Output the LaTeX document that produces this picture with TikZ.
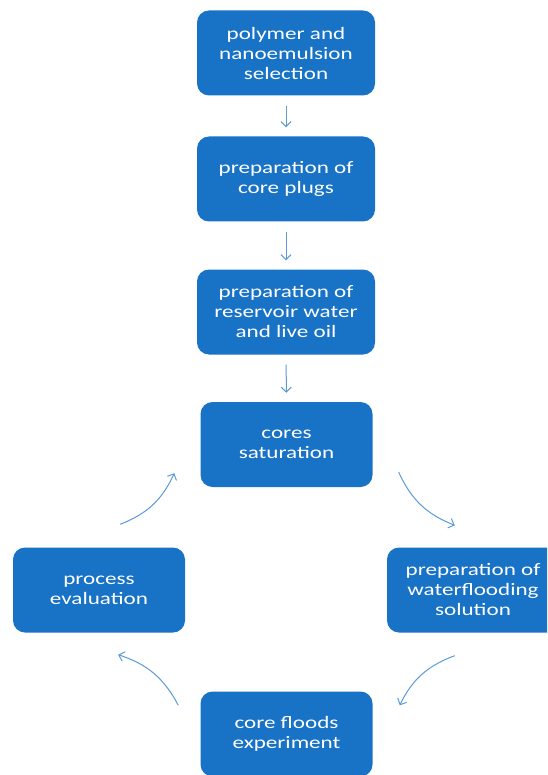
\documentclass[tikz,border=0pt]{standalone}
\usepackage{fontspec}
\setmainfont{Carlito}[FakeStretch=1.32]
\usetikzlibrary{arrows.meta,calc,positioning}
\definecolor{boxblue}{RGB}{24,114,197}
\definecolor{arrowblue}{RGB}{91,155,213}

\begin{document}
\begin{tikzpicture}[x=1pt,y=-1pt,
  stage/.style={rectangle,rounded corners=12pt,fill=boxblue,text=white,
    minimum width=172pt,minimum height=85pt,inner sep=0pt,align=center,
    font=\fontsize{17.5}{20}\selectfont},
  wide/.style={minimum width=178pt},
  flow/.style={draw=arrowblue,line width=1pt,-{Straight Barb[length=5pt,width=10pt]}},
  down/.style={flow,shorten <=10pt,shorten >=9pt}]
  \useasboundingbox (0,0) rectangle (547,775);
  \clip (0,0) rectangle (547,775);
  % Preparation steps, top column
  \node[stage,wide] (sel) at (286,53) {polymer and\\nanoemulsion\\selection};
  \node[stage,wide] (plug) at (286,179) {preparation of\\core plugs};
  \node[stage,wide] (fluid) at (286,312) {preparation of\\reservoir water\\and live oil};
  \draw[down] (sel) -- (plug);
  \draw[down] (plug) -- (fluid);
  % Flooding cycle
  \node[stage] (sat) at (286.5,444.5) {cores\\saturation};
  \node[stage] (wf) at (473,590) {preparation of\\waterflooding\\solution};
  \node[stage] (flood) at (286.5,734) {core floods\\experiment};
  \node[stage] (eval) at (99,590) {process\\evaluation};
  \draw[down] (fluid) -- (sat);
  \draw[flow] ($(sat.south east)+(26,-15)$) to[bend right=22] ($(wf.north west)+(68,-22)$);
  \draw[flow] ($(wf.south west)+(68,23)$) to[bend right=22] ($(flood.north east)+(27,14)$);
  \draw[flow] ($(flood.north west)+(-22,14)$) to[bend right=22] ($(eval.south east)+(-67,22)$);
  \draw[flow] ($(eval.north east)+(-65,-23)$) to[bend right=22] ($(sat.south west)+(-26,-14)$);
\end{tikzpicture}
\end{document}
